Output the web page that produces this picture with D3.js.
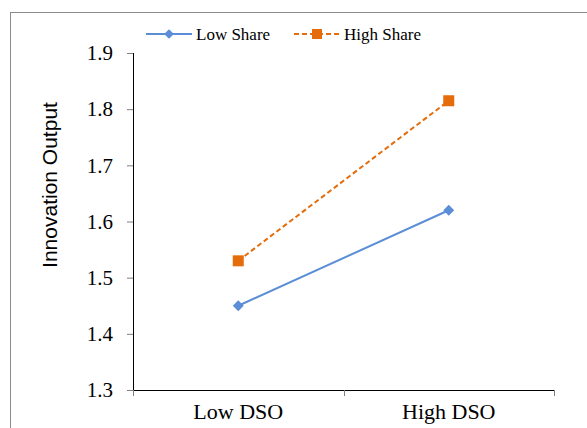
<!DOCTYPE html>
<html lang="en">
<head>
    <meta charset="UTF-8">
    <title>Innovation Output</title>
    <script src="https://cdn.jsdelivr.net/npm/d3@7"></script>
    <style>
        body { margin: 0; background: #fff; }
        svg { display: block; }
        .serif { font-family: "Liberation Serif", "Times New Roman", serif; }
    </style>
</head>
<body>
<script>
    // data
    var categories = ["Low DSO", "High DSO"];
    var seriesNames = ["Low Share", "High Share"];
    var lowShare = [1.45, 1.62];
    var highShare = [1.53, 1.815];
    var yTicks = [1.3, 1.4, 1.5, 1.6, 1.7, 1.8, 1.9];

    var width = 587, height = 428;
    var svg = d3.select("body").append("svg")
        .attr("width", width)
        .attr("height", height);

    // outer chart frame
    svg.append("rect")
        .attr("x", 10.5).attr("y", 12.5)
        .attr("width", 600).attr("height", 500)
        .attr("fill", "none")
        .attr("stroke", "#8c8c8c")
        .attr("stroke-width", 1);

    var plotLeft = 133, plotRight = 554, plotTop = 53, plotBottom = 390;

    var x = d3.scaleBand()
        .domain(categories)
        .range([plotLeft, plotRight]);
    var y = d3.scaleLinear()
        .domain([1.3, 1.9])
        .range([plotBottom, plotTop]);

    // y axis
    var yAxis = svg.append("g")
        .attr("transform", "translate(" + plotLeft + ",0)")
        .call(d3.axisLeft(y).tickValues(yTicks).tickFormat(d3.format(".1f")).tickSize(6).tickPadding(14));
    yAxis.attr("font-family", null).attr("font-size", null);
    yAxis.select(".domain").attr("stroke", "#000").attr("d", "M0.5," + plotTop + "V" + plotBottom);
    yAxis.selectAll(".tick line").attr("stroke", "#7f7f7f").attr("x1", -6).attr("x2", 0);
    yAxis.selectAll(".tick text")
        .attr("class", "serif")
        .style("font-size", "21px")
        .attr("fill", "#000");

    // x axis
    var xAxis = svg.append("g")
        .attr("transform", "translate(0," + plotBottom + ")")
        .call(d3.axisBottom(x).tickSize(0).tickPadding(13));
    xAxis.attr("font-family", null).attr("font-size", null);
    xAxis.select(".domain").attr("stroke", "#000").attr("d", "M" + plotLeft + ",0.5H" + plotRight);
    xAxis.selectAll(".tick text")
        .attr("class", "serif")
        .style("font-size", "22px")
        .attr("fill", "#000");
    // category boundary ticks
    var bounds = [plotLeft].concat(categories.map(function (c) { return x(c) + x.bandwidth(); }));
    svg.selectAll(".xb")
        .data(bounds)
        .enter()
        .append("line")
        .attr("class", "xb")
        .attr("x1", function (d) { return Math.round(d) + 0.5; })
        .attr("x2", function (d) { return Math.round(d) + 0.5; })
        .attr("y1", plotBottom)
        .attr("y2", plotBottom + 6)
        .attr("stroke", "#7f7f7f");

    // y axis title
    svg.append("text")
        .attr("transform", "translate(57,185) rotate(-90)")
        .attr("text-anchor", "middle")
        .style("font-family", "'Liberation Sans', Arial, sans-serif")
        .style("font-size", "21px")
        .text("Innovation Output");

    var cx = function (d, i) { return x(categories[i]) + x.bandwidth() / 2; };
    var line = d3.line().x(cx).y(function (d) { return y(d); });

    var blue = "#5b8ed6", orange = "#e46c0a";

    // Low Share series
    svg.append("path")
        .datum(lowShare)
        .attr("d", line)
        .attr("fill", "none")
        .attr("stroke", blue)
        .attr("stroke-width", 2);
    svg.selectAll(".dia")
        .data(lowShare)
        .enter()
        .append("path")
        .attr("class", "dia")
        .attr("d", d3.symbol(d3.symbolDiamond2, 75))
        .attr("transform", function (d, i) { return "translate(" + cx(d, i) + "," + y(d) + ")"; })
        .attr("fill", blue);

    // High Share series
    svg.append("path")
        .datum(highShare)
        .attr("d", line)
        .attr("fill", "none")
        .attr("stroke", orange)
        .attr("stroke-width", 2)
        .attr("stroke-dasharray", "5,3");
    svg.selectAll(".sq")
        .data(highShare)
        .enter()
        .append("rect")
        .attr("class", "sq")
        .attr("x", function (d, i) { return cx(d, i) - 5.5; })
        .attr("y", function (d) { return y(d) - 5.5; })
        .attr("width", 11)
        .attr("height", 11)
        .attr("fill", orange);

    // legend
    var legend = svg.append("g").attr("transform", "translate(0,34)");
    legend.append("line")
        .attr("x1", 146).attr("x2", 192).attr("y1", 0).attr("y2", 0)
        .attr("stroke", blue).attr("stroke-width", 2);
    legend.append("path")
        .attr("d", d3.symbol(d3.symbolDiamond2, 60))
        .attr("transform", "translate(169,0)")
        .attr("fill", blue);
    legend.append("text")
        .attr("class", "serif")
        .attr("x", 196).attr("y", 6)
        .style("font-size", "17px")
        .text(seriesNames[0]);

    legend.append("line")
        .attr("x1", 294).attr("x2", 340).attr("y1", 0).attr("y2", 0)
        .attr("stroke", orange).attr("stroke-width", 2)
        .attr("stroke-dasharray", "5,3");
    legend.append("rect")
        .attr("x", 312).attr("y", -5).attr("width", 10).attr("height", 10)
        .attr("fill", orange);
    legend.append("text")
        .attr("class", "serif")
        .attr("x", 344).attr("y", 6)
        .style("font-size", "17px")
        .text(seriesNames[1]);
</script>
</body>
</html>
